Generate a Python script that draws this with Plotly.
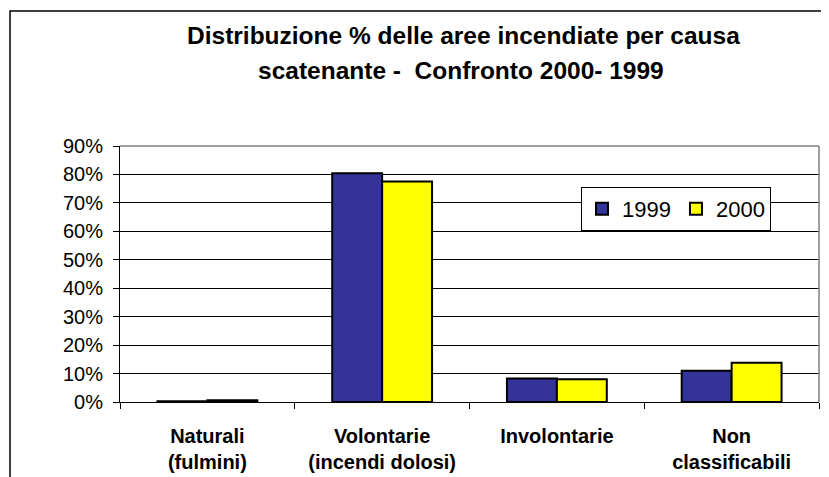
import plotly.graph_objects as go

categories = ["Naturali<br>(fulmini)", "Volontarie<br>(incendi dolosi)", "Involontarie<br> ", "Non<br>classificabili"]
series_names = ["1999", "2000"]
values_1999 = [0.3, 80.4, 8.3, 11.0]
values_2000 = [0.6, 77.5, 8.0, 13.8]
y_ticks = [0, 10, 20, 30, 40, 50, 60, 70, 80, 90]
title_lines = ["Distribuzione % delle aree incendiate per causa", "scatenante -  Confronto 2000- 1999"]

FONT = "Liberation Sans, Arial, sans-serif"
OFF = 8  # page body margin of the html page
W, H = 829 - OFF, 477 - OFF
L, R = 120 - OFF, 10
T = 146 - OFF
B = H - (402 - OFF)

fig = go.Figure()
fig.add_trace(go.Bar(x=categories, y=values_1999, name=series_names[0],
                     marker=dict(color="#333399", line=dict(color="black", width=2))))
fig.add_trace(go.Bar(x=categories, y=values_2000, name=series_names[1],
                     marker=dict(color="#FFFF00", line=dict(color="black", width=2))))

pw = W - L - R
ph = H - T - B

def px_x(x):
    return (x - OFF - L) / pw

def px_y(y):
    return (H - B - (y - OFF)) / ph

bold_labels = ["<b>" + c.replace("<br>", "</b><br><b>") + "</b>" for c in categories]

fig.update_layout(
    width=W, height=H,
    margin=dict(l=L, r=R, t=T, b=B, autoexpand=False),
    paper_bgcolor="white", plot_bgcolor="white",
    font=dict(family=FONT, color="black"),
    barmode="group", bargap=1.5 / 3.5, bargroupgap=0,
    showlegend=True,
    legend=dict(orientation="h", x=px_x(581), y=px_y(187), xanchor="left", yanchor="top",
                bordercolor="black", borderwidth=1, bgcolor="white",
                font=dict(size=22, family=FONT), itemwidth=30, traceorder="normal"),
    xaxis=dict(showline=True, linecolor="black", linewidth=1, ticks="outside",
               tickson="boundaries", ticklen=6, tickcolor="black",
               tickfont=dict(size=20, family=FONT), ticklabelstandoff=16,
               tickmode="array", tickvals=categories, ticktext=bold_labels,
               showgrid=False, automargin=False),
    yaxis=dict(range=[0, 90], tickvals=y_ticks, ticktext=[f"{v}%" for v in y_ticks],
               showline=True, linecolor="black", linewidth=1, ticks="outside",
               ticklen=6, tickcolor="black", tickfont=dict(size=20, family=FONT),
               showgrid=True, gridcolor="black", gridwidth=1, zeroline=False,
               ticklabelstandoff=6, automargin=False),
    shapes=[
        dict(type="rect", xref="paper", yref="paper", x0=px_x(10), x1=1.2, y0=-0.6, y1=px_y(11),
             line=dict(color="black", width=1.5), fillcolor="rgba(0,0,0,0)", layer="below"),
        dict(type="line", xref="paper", yref="paper", x0=0, x1=1, y0=1, y1=1,
             line=dict(color="#808080", width=1.5), layer="above"),
        dict(type="line", xref="paper", yref="paper", x0=1, x1=1, y0=0, y1=1,
             line=dict(color="#808080", width=1.5), layer="above"),
    ],
    annotations=[
        dict(text="<b>" + title_lines[0] + "</b>", xref="paper", yref="paper", x=px_x(463), y=px_y(35),
             xanchor="center", yanchor="middle", showarrow=False,
             font=dict(size=24.5, family=FONT, color="black")),
        dict(text="<b>" + title_lines[1] + "</b>", xref="paper", yref="paper", x=px_x(461), y=px_y(70),
             xanchor="center", yanchor="middle", showarrow=False,
             font=dict(size=24.5, family=FONT, color="black")),
    ],
)

fig.write_html("out.html")
